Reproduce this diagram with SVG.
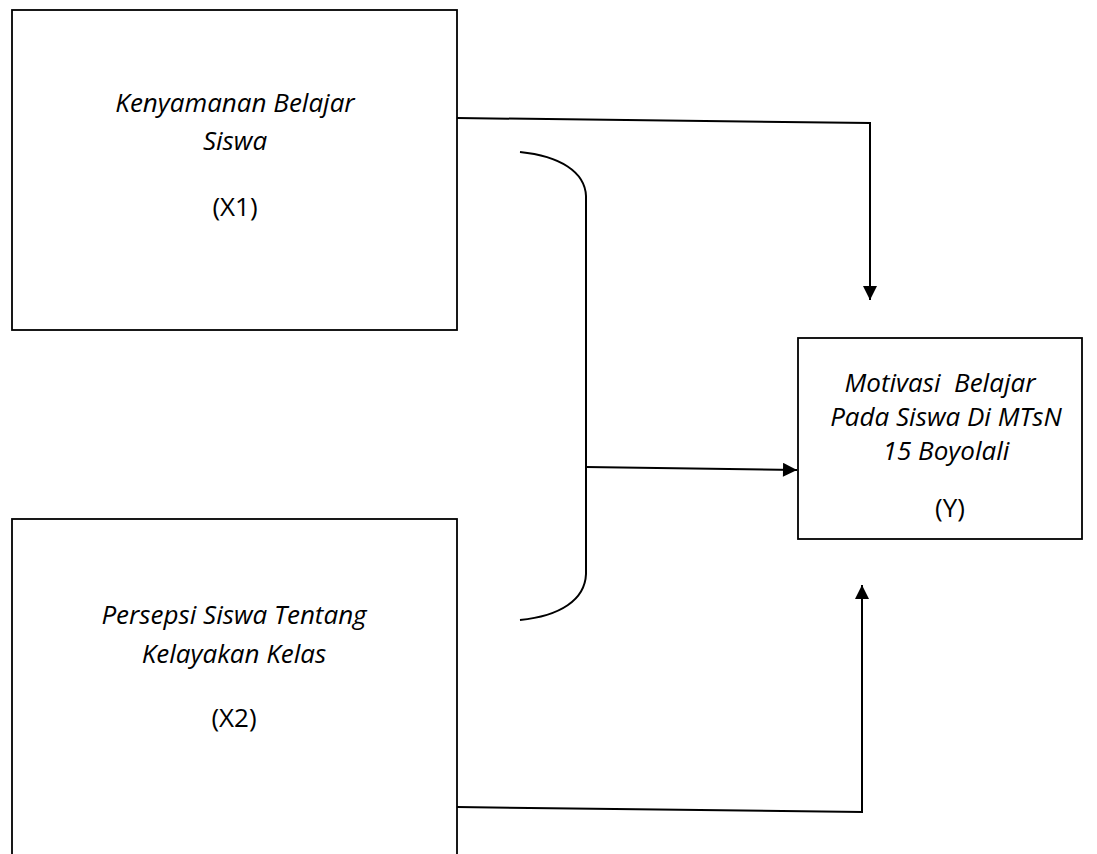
<svg xmlns="http://www.w3.org/2000/svg" width="1097" height="854" viewBox="0 0 1097 854">
<style>
.box{fill:#fff;stroke:#000;stroke-width:1.8}
.ln{fill:none;stroke:#000;stroke-width:2}
.t{font-family:"Open Sans","Noto Sans",sans-serif;font-size:26px;fill:#000;text-anchor:middle;white-space:pre}
.i{font-style:italic}
</style>
<defs>
<marker id="ah" viewBox="0 0 10 10" refX="10" refY="5" markerWidth="15" markerHeight="14" markerUnits="userSpaceOnUse" orient="auto">
<path d="M0,0 L10,5 L0,10 z" fill="#000"/>
</marker>
</defs>
<rect width="1097" height="854" fill="#fff"/>
<g id="x1">
<rect class="box" x="12" y="10" width="445" height="320"/>
<text class="t i" x="235" y="112">Kenyamanan Belajar</text>
<text class="t i" x="235" y="150">Siswa</text>
<text class="t" x="235" y="216">(X1)</text>
</g>
<g id="x2">
<rect class="box" x="12" y="519" width="445" height="345"/>
<text class="t i" x="234" y="624">Persepsi Siswa Tentang</text>
<text class="t i" x="234" y="663">Kelayakan Kelas</text>
<text class="t" x="234" y="727">(X2)</text>
</g>
<g id="y">
<rect class="box" x="798" y="338" width="284" height="201"/>
<text class="t i" x="940" y="392" xml:space="preserve">Motivasi  Belajar</text>
<text class="t i" x="946" y="426">Pada Siswa Di MTsN</text>
<text class="t i" x="946" y="460">15 Boyolali</text>
<text class="t" x="950" y="517">(Y)</text>
</g>
<g id="connectors">
<path class="ln" d="M457,118 L870,123 L870,300" marker-end="url(#ah)"/>
<path class="ln" d="M520,152 C560,156 585,172 586,196 L586,574 C585,600 560,616 520,620"/>
<path class="ln" d="M586,467 L797,470" marker-end="url(#ah)"/>
<path class="ln" d="M457,807 L862,812 L862,585" marker-end="url(#ah)"/>
</g>
</svg>
